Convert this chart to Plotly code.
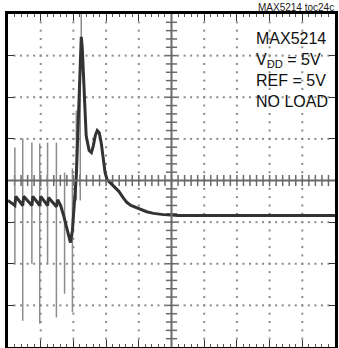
"""Scope capture: MAX5214 digital feedthrough / glitch. Axes are in scope divisions."""
import plotly.graph_objects as go

# main (slow, thick) trace, x in divisions (0-10), y in divisions (-4..4)
trace_t = [0.0, 0.21, 0.24, 0.45, 0.48, 0.73, 0.76, 0.97, 1.0, 1.21, 1.24, 1.48, 1.52,
           1.61, 1.70, 1.79, 1.88, 1.91, 1.97, 2.03, 2.09, 2.15, 2.21, 2.24, 2.27, 2.33,
           2.39, 2.48, 2.55, 2.61, 2.67, 2.73, 2.79, 2.85, 2.91, 2.97, 3.03, 3.12, 3.21,
           3.30, 3.39, 3.52, 3.64, 3.76, 3.91, 4.06, 4.24, 4.45, 4.76, 5.21, 10.0]
trace_v = [-0.48, -0.60, -0.38, -0.60, -0.38, -0.60, -0.38, -0.60, -0.38, -0.60, -0.41, -0.63, -0.46,
           -0.60, -0.84, -1.15, -1.44, -1.49, -1.20, -0.60, 0.12, 1.44, 3.2, 3.45, 3.2, 1.92,
           1.08, 0.72, 0.67, 0.84, 1.08, 1.20, 1.15, 0.91, 0.53, 0.19, 0.02, -0.05, -0.10,
           -0.17, -0.26, -0.41, -0.53, -0.60, -0.65, -0.70, -0.75, -0.79, -0.82, -0.84, -0.84]

# fast edges (thin, faint on the scope)
spike_t = [0.21, 0.45, 0.73, 0.97, 1.21, 1.48, 1.73, 1.97, 2.09, 2.21, 2.24]
spike_hi = [0.79, 1.01, 0.91, 0.89, 0.91, 0.91, 0.19, 0.29, 1.68, 2.88, 4.0]
spike_lo = [-2.0, -3.37, -2.0, -3.44, -2.0, -3.29, -2.72, -3.17, -0.48, -0.48, 3.2]

NOTES = ["MAX5214", "V<sub>DD</sub> = 5V", "REF = 5V", "NO LOAD"]
NOTE_Y = [0.925, 0.859, 0.800, 0.737]
FONT = "Liberation Sans, Arial, sans-serif"

fig = go.Figure()

# dotted graticule
gx, gy = [], []
for i in [1, 2, 3, 4, 6, 7, 8, 9]:
    for k in range(1, 40):
        gx.append(i); gy.append(-4 + 0.2 * k)
for j in [-3, -2, -1, 1, 2, 3]:
    for k in range(1, 50):
        gx.append(0.2 * k); gy.append(j)
fig.add_trace(go.Scatter(x=gx, y=gy, mode="markers",
                         marker=dict(symbol="square", size=2, color="#8a8a8a", line_width=0),
                         hoverinfo="skip"))

# centre cross with minor ticks
fig.add_shape(type="line", x0=5, x1=5, y0=-4, y1=4, line=dict(color="#6a6a6a", width=2))
fig.add_shape(type="line", x0=0, x1=10, y0=0, y1=0, line=dict(color="#6a6a6a", width=2))
fig.add_trace(go.Scatter(x=[5] * 39, y=[-4 + 0.2 * k for k in range(1, 40)], mode="markers",
                         marker=dict(symbol="line-ew", size=8, line=dict(color="#6a6a6a", width=1.5)),
                         hoverinfo="skip"))
fig.add_trace(go.Scatter(x=[0.2 * k for k in range(1, 50)], y=[0] * 49, mode="markers",
                         marker=dict(symbol="line-ns", size=8, line=dict(color="#6a6a6a", width=1.5)),
                         hoverinfo="skip"))

# spikes
sx, sy = [], []
for t, hi, lo in zip(spike_t, spike_hi, spike_lo):
    sx += [t, t, None]; sy += [hi, lo, None]
fig.add_trace(go.Scatter(x=sx, y=sy, mode="lines", line=dict(color="#8c8c8c", width=1.5),
                         hoverinfo="skip"))

fig.add_trace(go.Scatter(x=trace_t, y=trace_v, mode="lines",
                         line=dict(color="#333333", width=3)))

for txt, y in zip(NOTES, NOTE_Y):
    fig.add_annotation(text=txt, xref="paper", yref="paper", x=0.752, y=y,
                       xanchor="left", yanchor="middle", showarrow=False,
                       font=dict(family=FONT, size=16, color="#111111"))
fig.add_annotation(text="MAX5214 toc24c", xref="paper", yref="paper", x=1.003, y=1.021,
                   xanchor="right", yanchor="middle", showarrow=False,
                   font=dict(family=FONT, size=10, color="#222222"))

fig.update_xaxes(range=[0, 10], showgrid=False, zeroline=False, showticklabels=False,
                 showline=True, linecolor="black", linewidth=2.5, mirror="allticks",
                 ticks="inside", dtick=1, tick0=0, ticklen=7, tickcolor="#333",
                 minor=dict(ticks="inside", dtick=0.2, ticklen=3, tickcolor="#555"))
fig.update_yaxes(range=[-4, 4], showgrid=False, zeroline=False, showticklabels=False,
                 showline=True, linecolor="black", linewidth=2.5, mirror="allticks",
                 ticks="inside", dtick=1, tick0=0, ticklen=6, tickcolor="#333")
fig.update_layout(width=339, height=348, showlegend=False,
                  margin=dict(l=8, r=1, t=14, b=1),
                  plot_bgcolor="white", paper_bgcolor="white")

# drop the default 8px body margin so the figure sits at the page corner
fig.write_html("out.html", config={"displayModeBar": False},
               post_script="document.body.style.margin='0px';")
